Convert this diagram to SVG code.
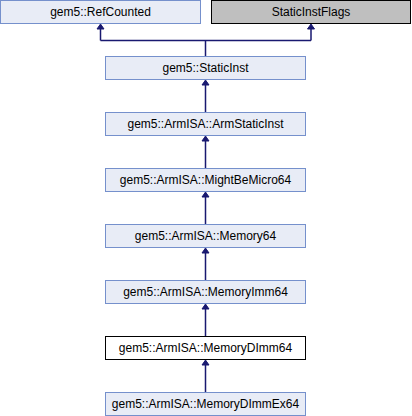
<svg xmlns="http://www.w3.org/2000/svg" width="412" height="416" viewBox="0 0 412 416">
<style>
.n{fill:#e8ecf6;stroke:#7590cc;stroke-width:1}
.g{fill:#bfbfbf;stroke:#000;stroke-width:1}
.w{fill:#fff;stroke:#000;stroke-width:1}
text{font-family:"Liberation Sans",Arial,sans-serif;font-size:12px;fill:#000;text-anchor:middle}
.e{fill:none;stroke:#191970;stroke-width:1.5}
.a{fill:#191970;stroke:#191970;stroke-width:1}
</style>
<rect width="412" height="416" fill="#fff"/>
<g id="connectors">
<path class="e" d="M205.5,56.5V40.5M100.5,40.5H311M100.5,40.5V29M311,40.5V29"/>
<polygon class="a" points="97,29 100.5,24 104,29"/>
<polygon class="a" points="307.5,29 311,24 314.5,29"/>
<path class="e" d="M205.5,112.5V85M205.5,168.5V141M205.5,224.5V197M205.5,280.5V253M205.5,336.5V309M205.5,392.5V365"/>
<polygon class="a" points="202,85 205.5,80 209,85"/>
<polygon class="a" points="202,141 205.5,136 209,141"/>
<polygon class="a" points="202,197 205.5,192 209,197"/>
<polygon class="a" points="202,253 205.5,248 209,253"/>
<polygon class="a" points="202,309 205.5,304 209,309"/>
<polygon class="a" points="202,365 205.5,360 209,365"/>
</g>
<g id="RefCounted"><rect class="n" x="0.5" y="0.5" width="200" height="23"/><text x="100.5" y="16">gem5::RefCounted</text></g>
<g id="StaticInstFlags"><rect class="g" x="211.5" y="0.5" width="199" height="23"/><text x="311" y="16">StaticInstFlags</text></g>
<g id="StaticInst"><rect class="n" x="105.5" y="56.5" width="200" height="23"/><text x="205.5" y="72">gem5::StaticInst</text></g>
<g id="ArmStaticInst"><rect class="n" x="105.5" y="112.5" width="200" height="23"/><text x="205.5" y="128">gem5::ArmISA::ArmStaticInst</text></g>
<g id="MightBeMicro64"><rect class="n" x="105.5" y="168.5" width="200" height="23"/><text x="205.5" y="184">gem5::ArmISA::MightBeMicro64</text></g>
<g id="Memory64"><rect class="n" x="105.5" y="224.5" width="200" height="23"/><text x="205.5" y="240">gem5::ArmISA::Memory64</text></g>
<g id="MemoryImm64"><rect class="n" x="105.5" y="280.5" width="200" height="23"/><text x="205.5" y="296">gem5::ArmISA::MemoryImm64</text></g>
<g id="MemoryDImm64"><rect class="w" x="105.5" y="336.5" width="200" height="23"/><text x="205.5" y="352">gem5::ArmISA::MemoryDImm64</text></g>
<g id="MemoryDImmEx64"><rect class="n" x="105.5" y="392.5" width="200" height="23"/><text x="205.5" y="408">gem5::ArmISA::MemoryDImmEx64</text></g>
</svg>
